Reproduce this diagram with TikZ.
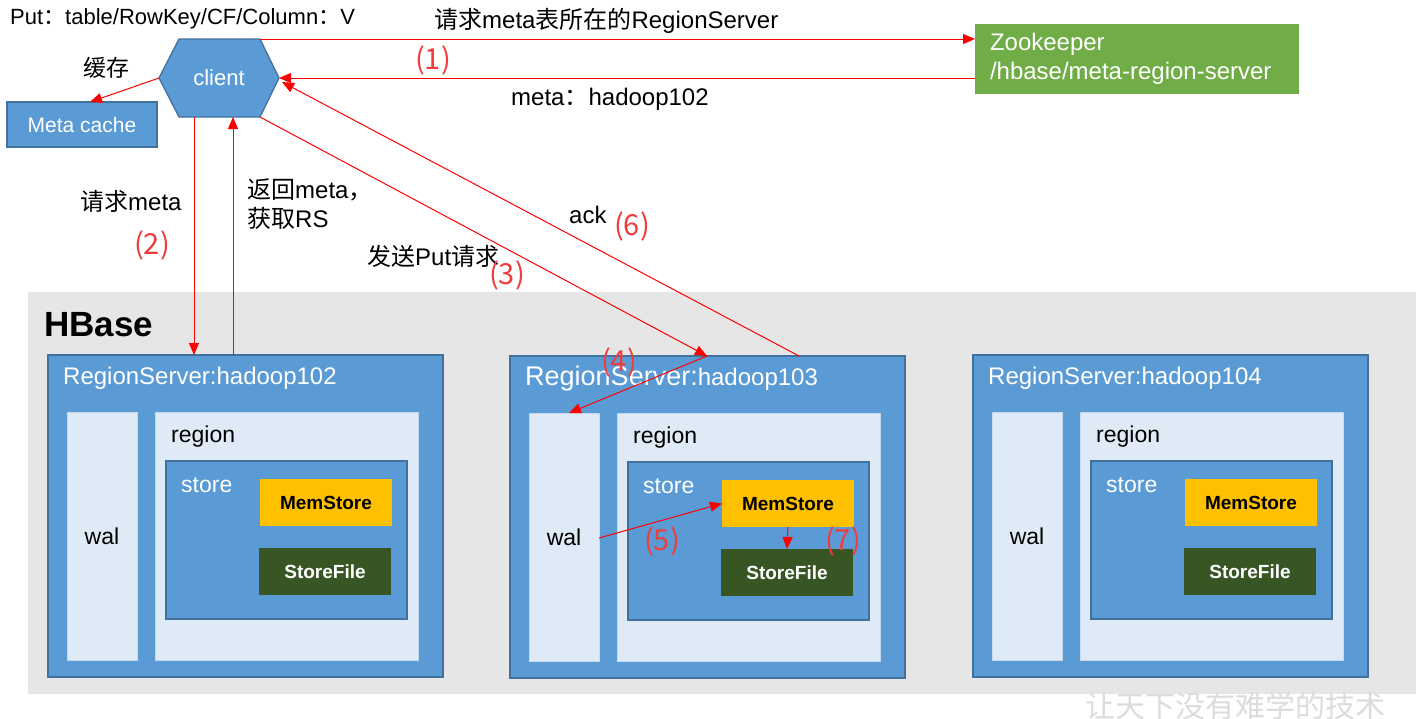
\documentclass[tikz,border=0pt]{standalone}
\usepackage{fontspec}
\setmainfont{Liberation Sans}
\newfontfamily\cjk{Noto Sans CJK SC}
\usetikzlibrary{arrows.meta,calc}
\definecolor{bblue}{HTML}{5B9BD5}
\definecolor{bline}{HTML}{41719C}
\definecolor{lblue}{HTML}{DEEBF7}
\definecolor{lline}{HTML}{C5D8EE}
\definecolor{hgray}{HTML}{E6E6E6}
\definecolor{memc}{HTML}{FFC000}
\definecolor{sfc}{HTML}{375623}
\definecolor{zkc}{HTML}{70AD47}
\definecolor{rlab}{HTML}{F03C3C}
\definecolor{wmc}{HTML}{DCDCDC}
\newcommand\fsz[2]{\fontsize{#1}{#2}\selectfont}
\tikzset{
  bluebox/.style={draw=bline, fill=bblue, line width=1.3pt, inner sep=0pt, outer sep=0pt, anchor=north west},
  litebox/.style={draw=lline, fill=lblue, line width=0.8pt, inner sep=0pt, outer sep=0pt, anchor=north west, font=\fsz{23}{27}},
  memb/.style={fill=memc, inner sep=0pt, outer sep=0pt, anchor=north west, minimum width=132pt, minimum height=47pt, font=\bfseries\fsz{19}{22}, text=black},
  sfb/.style={fill=sfc, inner sep=0pt, outer sep=0pt, anchor=north west, minimum width=132pt, minimum height=47pt, font=\bfseries\fsz{19}{22}, text=white},
  lbl/.style={anchor=west, inner sep=0pt, font=\fsz{24}{28}},
  wlbl/.style={lbl, text=white},
  num/.style={inner sep=0pt, text=rlab, font=\cjk\fsz{29}{33}},
  arr/.style={draw=red, line width=1pt, -{Triangle[length=12pt,width=10pt]}}
}
\newcommand\regionserver[4]{%
  \begin{scope}[shift={(#2,#3)}]
    \node[bluebox, minimum width=395pt, minimum height=322pt] (rs#1) at (0,0) {};
    \node[wlbl] (rsl#1) at (15,23) {#4};
    \node[litebox, minimum width=70pt, minimum height=248pt] (wal#1) at (19,57) {wal};
    \node[litebox, minimum width=263pt, minimum height=248pt] (reg#1) at (107,57) {};
    \node[lbl, font=\fsz{23}{27}] (regl#1) at (123,82) {region};
    \node[bluebox, minimum width=241pt, minimum height=158pt] (st#1) at (118,106) {};
    \node[wlbl, font=\fsz{23}{27}] (stl#1) at (133,130) {store};
    \node[memb] (mem#1) at (212,124) {MemStore};
    \node[sfb] (sf#1) at (211,193) {StoreFile};
  \end{scope}}
\begin{document}
\begin{tikzpicture}[x=1pt,y=-1pt]
\useasboundingbox[fill=white] (0,0) rectangle (1423,718);

% HBase background
\node[fill=hgray, inner sep=0pt, anchor=north west, minimum width=1388pt, minimum height=402pt] (hb) at (28,292) {};
\node[anchor=west, inner sep=0pt, font=\bfseries\fsz{35}{40}] (hbl) at (44,325) {HBase};

\regionserver{102}{48}{355}{RegionServer:hadoop102}
\regionserver{103}{510}{356}{{\fsz{27}{31}RegionServer:}hadoop103}
\regionserver{104}{973}{355}{RegionServer:hadoop104}

% client hexagon
\coordinate (cl) at (159,78);
\coordinate (ctl) at (179,39);
\coordinate (ctr) at (260,39);
\coordinate (cr) at (279,78);
\coordinate (cbr) at (260,117);
\coordinate (cbl) at (179,117);
\filldraw[fill=bblue, draw=bline, line width=1.3pt] (cl)--(ctl)--(ctr)--(cr)--(cbr)--(cbl)--cycle;
\node[inner sep=0pt, text=white, font=\fsz{22}{26}] (client) at (219,78) {client};

% Meta cache
\node[bluebox, minimum width=150pt, minimum height=45pt, text=white, font=\fsz{21}{25}] (mc) at (7,102) {Meta cache};

% Zookeeper
\node[fill=zkc, inner xsep=15pt, inner ysep=0pt, outer sep=0pt, anchor=north west, text width=294pt, minimum height=70pt, text=white, align=left, font=\fsz{24}{29}] (zk) at (975,24) {Zookeeper\\/hbase/meta-region-server};

% text labels
\node[lbl, font=\fsz{22}{26}] (putl) at (10,19) {Put{\cjk ：}table/RowKey/CF/Column{\cjk ：}V};
\node[lbl] (reql) at (434,21) {{\cjk 请求}meta{\cjk 表所在的}RegionServer};
\node[lbl] (metal) at (511,99) {meta{\cjk ：}hadoop102};
\node[inner sep=0pt, font=\cjk\fsz{23}{27}] (cachel) at (106,68) {缓存};
\node[lbl] (reqm) at (80,201) {{\cjk 请求}meta};
\node[anchor=west, inner sep=0pt, align=left, font=\fsz{24}{29}] (retl) at (247,204) {{\cjk 返回}meta{\cjk ，}\\{\cjk 获取}RS};
\node[lbl] (sendl) at (367,256) {{\cjk 发送}Put{\cjk 请求}};
\node[lbl] (ackl) at (569,215) {ack};

% step numbers
\node[num] (n1) at (433,60) {(1)};
\node[num] (n2) at (152,245) {(2)};
\node[num] (n3) at (507,275) {(3)};
\node[num] (n4) at (619,362) {(4)};
\node[num] (n5) at (662,541) {(5)};
\node[num] (n6) at (632,226) {(6)};
\node[num] (n7) at (843,541) {(7)};

% connectors
\draw[arr] (ctr) -- (zk.west |- ctr);
\draw[arr] (zk.west |- cr) -- (cr);
\coordinate (mcn) at ($(mc.north)+(8,0)$);
\draw[arr] (cl) -- (mcn);
\coordinate (p2) at (194,117);
\draw[arr] (p2) -- (p2 |- rs102.north);
\coordinate (p2r) at (233,117);
\draw[arr] (p2r |- rs102.north) -- (p2r);
\coordinate (t3) at (707,356);
\draw[arr] (cbr) -- (t3);
\coordinate (w4) at ($(wal103.north)+(5,0)$);
\draw[arr] (t3) -- (w4);
\coordinate (w5) at ($(wal103.east)+(0,1)$);
\draw[arr] (w5) -- (mem103.west);
\draw[arr] (mem103.south) -- (sf103.north);
\coordinate (a6) at (799,356);
\coordinate (c6) at (282,82);
\draw[arr] (a6) -- (c6);

% watermark
\node[inner sep=0pt, text=wmc, font=\cjk\fsz{30}{34}] (wm) at (1235,706) {让天下没有难学的技术};
\end{tikzpicture}
\end{document}
